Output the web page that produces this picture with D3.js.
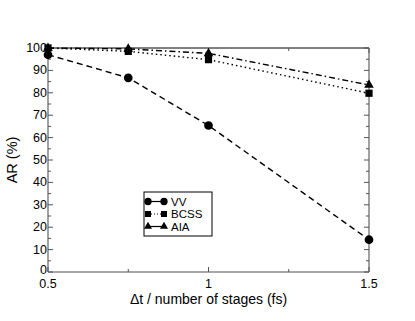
<!DOCTYPE html>
<html>
<head>
<meta charset="utf-8">
<script src="https://cdn.jsdelivr.net/npm/d3@7"></script>
<style>
  body { margin: 0; background: #fff; }
  text { font-family: "Liberation Sans", Arial, sans-serif; }
</style>
</head>
<body>
<div id="chart"></div>
<script>
const xValues = [0.5, 0.75, 1, 1.5];
const seriesNames = ["VV", "BCSS", "AIA"];
const vvValues = [97, 86.7, 65.4, 14.4];
const bcssValues = [100, 98.5, 94.8, 79.8];
const aiaValues = [100, 99.6, 97.6, 83.5];
const yTicks = [0, 10, 20, 30, 40, 50, 60, 70, 80, 90, 100];
const xTicks = [0.5, 1, 1.5];

const width = 415, height = 321;
const margin = { top: 48, right: 46, bottom: 49, left: 48 };

const svg = d3.select("#chart").append("svg")
    .attr("width", width)
    .attr("height", height);

const x = d3.scaleLinear().domain([0.5, 1.5]).range([margin.left, width - margin.right]);
const y = d3.scaleLinear().domain([0, 100]).range([height - margin.bottom, margin.top]);

const gray = "#8a8a8a";

// frame
svg.append("line").attr("x1", x(0.5)).attr("x2", x(1.5)).attr("y1", y(100)).attr("y2", y(100))
    .attr("stroke", "#000").attr("stroke-width", 1);
svg.append("line").attr("x1", x(0.5)).attr("x2", x(1.5)).attr("y1", y(0)).attr("y2", y(0))
    .attr("stroke", gray).attr("stroke-width", 1.6);
svg.append("line").attr("x1", x(0.5)).attr("x2", x(0.5)).attr("y1", y(0)).attr("y2", y(100))
    .attr("stroke", gray).attr("stroke-width", 1.6);
svg.append("line").attr("x1", x(1.5)).attr("x2", x(1.5)).attr("y1", y(0)).attr("y2", y(100))
    .attr("stroke", gray).attr("stroke-width", 1.6);

// ticks (inward)
const tickG = svg.append("g").attr("stroke", "#555").attr("stroke-width", 1);
d3.range(0, 101, 5).forEach(v => {
    const len = v % 10 === 0 ? 5 : 3;
    tickG.append("line").attr("x1", x(0.5)).attr("x2", x(0.5) + len).attr("y1", y(v)).attr("y2", y(v));
    tickG.append("line").attr("x1", x(1.5)).attr("x2", x(1.5) - len).attr("y1", y(v)).attr("y2", y(v));
});
d3.range(0.5, 1.51, 0.25).forEach(v => {
    const len = Math.abs(v * 2 - Math.round(v * 2)) < 1e-6 ? 5 : 3;
    tickG.append("line").attr("x1", x(v)).attr("x2", x(v)).attr("y1", y(0)).attr("y2", y(0) - len);
    tickG.append("line").attr("x1", x(v)).attr("x2", x(v)).attr("y1", y(100)).attr("y2", y(100) + len);
});

// tick labels
svg.append("g").selectAll("text").data(yTicks).join("text")
    .attr("x", x(0.5) - 1)
    .attr("y", d => y(d) + (d === 0 ? 2 : 4))
    .attr("text-anchor", "end")
    .attr("font-size", 12.5)
    .text(d => d);
svg.append("g").selectAll("text").data(xTicks).join("text")
    .attr("x", d => x(d))
    .attr("y", y(0) + 15.5)
    .attr("text-anchor", "middle")
    .attr("font-size", 12.5)
    .text(d => d);

// axis titles
svg.append("text")
    .attr("transform", `translate(17,${(y(0) + y(100)) / 2}) rotate(-90)`)
    .attr("text-anchor", "middle")
    .attr("font-size", 14.5)
    .text("AR (%)");
svg.append("text")
    .attr("x", x(1))
    .attr("y", 304)
    .attr("text-anchor", "middle")
    .attr("font-size", 14)
    .text("\u0394t / number of stages (fs)");

// series
const series = [
    { name: "VV", values: vvValues, dash: "6,4", symbol: d3.symbolCircle, size: 60 },
    { name: "BCSS", values: bcssValues, dash: "1.5,3", symbol: d3.symbolSquare, size: 52 },
    { name: "AIA", values: aiaValues, dash: "6,3,1.5,3", symbol: d3.symbolTriangle, size: 40 }
];

const line = d3.line().x((d, i) => x(xValues[i])).y(d => y(d));

series.forEach(s => {
    svg.append("path")
        .datum(s.values)
        .attr("fill", "none")
        .attr("stroke", "#000")
        .attr("stroke-width", 1.4)
        .attr("stroke-dasharray", s.dash)
        .attr("d", line);
    svg.append("g").selectAll("path").data(s.values).join("path")
        .attr("transform", (d, i) => `translate(${x(xValues[i])},${y(d)})`)
        .attr("d", d3.symbol().type(s.symbol).size(s.size))
        .attr("fill", "#000");
});

// legend
const legend = svg.append("g").attr("transform", "translate(144,192)");
legend.append("rect")
    .attr("width", 68).attr("height", 44)
    .attr("fill", "#fff").attr("stroke", "#000").attr("stroke-width", 1);
series.forEach((s, i) => {
    const ly = 9.5 + i * 12.5;
    legend.append("line")
        .attr("x1", 4).attr("x2", 20).attr("y1", ly).attr("y2", ly)
        .attr("stroke", "#000").attr("stroke-width", 1.2)
        .attr("stroke-dasharray", s.name === "BCSS" ? "1,2" : null);
    [4, 20].forEach(px => {
        legend.append("path")
            .attr("transform", `translate(${px},${ly})`)
            .attr("d", d3.symbol().type(s.symbol).size(s.size * 0.7))
            .attr("fill", "#000");
    });
    legend.append("text")
        .attr("x", 27).attr("y", ly + 4)
        .attr("font-size", 11.5)
        .text(s.name);
});
</script>
</body>
</html>
